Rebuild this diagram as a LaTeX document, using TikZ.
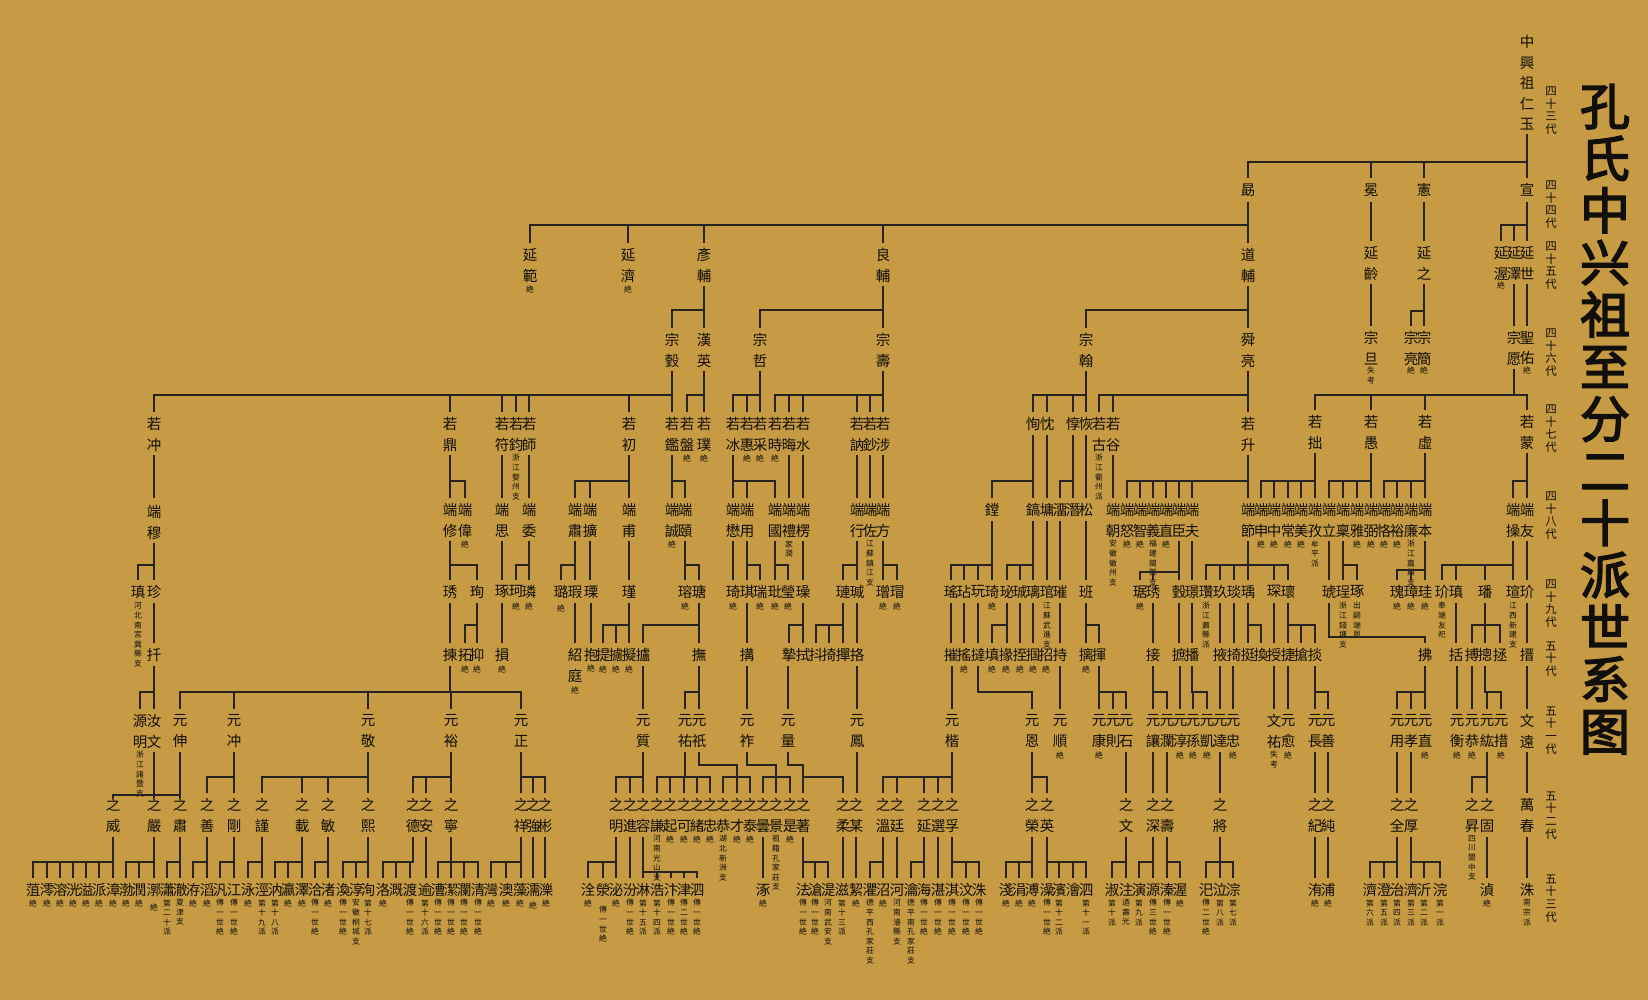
\documentclass[tikz,border=0pt]{standalone}
\usepackage{fontspec}
\newfontfamily\cjk{Noto Sans CJK SC}
\newfontfamily\cjkb{Noto Sans CJK SC}[FakeBold=3]
\definecolor{bgc}{RGB}{198,155,67}
\definecolor{lnc}{RGB}{40,35,30}
\definecolor{txc}{RGB}{18,14,10}
\newcommand\Nm[3]{\node[nm] (n#1-#2) at (#1,#2-6.7) {#3};}
\newcommand\Nt[3]{\node[nt] (t#1-#2) at (#1,#2-3.8) {#3};}
\newcommand\Vl[3]{\draw[ln] (#1,#2) -- (#1,#3);}
\newcommand\Br[5]{\foreach \cx in {#5}{\draw[ln] (#1,#2) |- (\cx,#3) -- (\cx,#4);}}
\begin{document}
\begin{tikzpicture}[x=1pt,y=-1pt,
 nm/.style={font=\cjk\fontsize{14.5}{20.5}\selectfont, inner sep=0pt, align=center, anchor=north, text=txc},
 nt/.style={font=\cjk\fontsize{7.8}{9.6}\selectfont, inner sep=0pt, align=center, anchor=north, text=txc},
 gl/.style={font=\cjk\fontsize{11.5}{12.7}\selectfont, inner sep=0pt, align=center, anchor=north, text=txc},
 ln/.style={draw=lnc, line width=1.35pt}]
\useasboundingbox (0,0) rectangle (1648,1000);
\fill[bgc] (0,0) rectangle (1648,1000);
% title
\node[font=\cjkb\fontsize{50}{52.1}\selectfont, inner sep=0pt, align=center, anchor=north, text=txc] (title) at (1605,84) {孔\\氏\\中\\兴\\祖\\至\\分\\二\\十\\派\\世\\系\\图};
% generation labels
\node[gl] (g43) at (1551,86.5) {四\\十\\三\\代};
\node[gl] (g44) at (1551,180.5) {四\\十\\四\\代};
\node[gl] (g45) at (1551,241.5) {四\\十\\五\\代};
\node[gl] (g46) at (1551,328.5) {四\\十\\六\\代};
\node[gl] (g47) at (1551,404.5) {四\\十\\七\\代};
\node[gl] (g48) at (1551,491.5) {四\\十\\八\\代};
\node[gl] (g49) at (1551,579.5) {四\\十\\九\\代};
\node[gl] (g50) at (1551,641.5) {五\\十\\代};
\node[gl] (g51) at (1551,706.5) {五\\十\\一\\代};
\node[gl] (g52) at (1551,791.5) {五\\十\\二\\代};
\node[gl] (g53) at (1551,874.5) {五\\十\\三\\代};
% ===== G43 / G44
\Nm{1527}{42}{中\\興\\祖\\仁\\玉}
\Br{1527}{134}{162}{178}{1248,1371,1424,1527}
\Nm{1248}{190}{勗}\Nm{1371}{190}{冕}\Nm{1424}{190}{憲}\Nm{1527}{190}{宣}
% ===== G45
\Br{1248}{202}{225}{243}{530,628,704,883,1248}
\Vl{1371}{202}{241}\Vl{1424}{202}{241}
\Br{1527}{202}{225}{241}{1501,1514,1527}
\Nm{530}{255}{延\\範}\Nt{530}{289}{絶}
\Nm{628}{255}{延\\濟}\Nt{628}{289}{絶}
\Nm{704}{255}{彥\\輔}\Nm{883}{255}{良\\輔}\Nm{1248}{255}{道\\輔}
\Nm{1371}{253}{延\\齡}\Nm{1424}{253}{延\\之}
\Nm{1501}{253}{延\\渥}\Nt{1501}{285}{絶}
\Nm{1514}{253}{延\\澤}\Nm{1527}{253}{延\\世}
% ===== G46
\Br{704}{286}{310}{328}{672,704}
\Br{883}{286}{310}{328}{760,883}
\Br{1248}{286}{310}{328}{1086,1248}
\Vl{1371}{284}{326}
\Br{1424}{284}{311}{326}{1411,1424}
\Vl{1514}{284}{326}\Vl{1527}{284}{326}
\Nm{672}{340}{宗\\瑴}\Nm{704}{340}{漢\\英}\Nm{760}{340}{宗\\哲}\Nm{883}{340}{宗\\壽}\Nm{1086}{340}{宗\\翰}\Nm{1248}{340}{舜\\亮}
\Nm{1371}{338}{宗\\旦}\Nt{1371}{371}{失\\考}
\Nm{1411}{338}{宗\\亮}\Nt{1411}{370}{絶}
\Nm{1424}{338}{宗\\簡}\Nt{1424}{370}{絶}
\Nm{1514}{338}{宗\\愿}
\Nm{1527}{338}{聖\\佑}\Nt{1527}{370}{絶}
% ===== G47
\Br{672}{371}{395}{412}{154,450,502,516,529,629,672}
\Br{704}{371}{395}{412}{687,704}
\Br{760}{371}{395}{412}{733,747,760}
\Br{883}{371}{395}{412}{775,789,803,857,870,883}
\Br{1086}{371}{395}{412}{1033,1047,1073,1086}
\Br{1248}{371}{395}{412}{1099,1113,1248}
\Br{1514}{369}{395}{410}{1315,1371,1425,1527}
\Nm{154}{424}{若\\冲}\Nm{450}{424}{若\\鼎}\Nm{502}{424}{若\\符}
\Nm{516}{424}{若\\鈞}\Nt{516}{458}{浙\\江\\婺\\州\\支}
\Nm{529}{424}{若\\師}\Nm{629}{424}{若\\初}\Nm{672}{424}{若\\鑑}
\Nm{687}{424}{若\\盤}\Nt{687}{458}{絶}\Nm{704}{424}{若\\璞}\Nt{704}{458}{絶}
\Nm{733}{424}{若\\冰}\Nm{747}{424}{若\\惠}\Nt{747}{458}{絶}\Nm{760}{424}{若\\采}\Nt{760}{458}{絶}
\Nm{775}{424}{若\\時}\Nt{775}{458}{絶}\Nm{789}{424}{若\\晦}\Nm{803}{424}{若\\水}
\Nm{857}{424}{若\\訥}\Nm{870}{424}{若\\鈔}\Nm{883}{424}{若\\涉}
\Nm{1033}{424}{恂}\Nm{1047}{424}{忱}\Nm{1073}{424}{惇}\Nm{1086}{424}{恢}
\Nm{1099}{424}{若\\古}\Nt{1099}{458}{浙\\江\\衢\\州\\派}
\Nm{1113}{424}{若\\谷}\Nm{1248}{424}{若\\升}
\Nm{1315}{422}{若\\拙}\Nm{1371}{422}{若\\愚}\Nm{1425}{422}{若\\虛}\Nm{1527}{422}{若\\蒙}
% ===== G48
\Vl{154}{455}{498}
\Br{450}{455}{481}{498}{450,465}
\Vl{502}{455}{498}\Vl{529}{455}{498}
\Br{629}{455}{481}{498}{575,590,629}
\Br{672}{455}{481}{498}{672,685}
\Br{733}{455}{481}{498}{733,747,775}
\Vl{789}{455}{498}\Vl{803}{455}{498}
\Vl{857}{455}{498}\Vl{870}{455}{498}\Vl{883}{455}{498}
\Br{1033}{435}{481}{498}{992,1033}
\Vl{1047}{435}{498}
\Br{1073}{435}{481}{498}{1060,1073}
\Vl{1086}{435}{498}
\Vl{1113}{455}{498}
\Br{1248}{455}{481}{498}{1127,1140,1153,1166,1179,1192,1248}
\Br{1315}{453}{481}{498}{1261,1274,1288,1301,1315}
\Br{1371}{453}{481}{498}{1329,1343,1357,1371}
\Br{1425}{453}{481}{498}{1384,1397,1411,1425}
\Br{1527}{453}{481}{498}{1513,1527}
\Nm{154}{512}{端\\穆}
\Nm{450}{510}{端\\修}\Nm{465}{510}{端\\偉}\Nt{465}{544}{絶}
\Nm{502}{510}{端\\思}\Nm{529}{510}{端\\委}
\Nm{575}{510}{端\\肅}\Nm{590}{510}{端\\擴}\Nm{629}{510}{端\\甫}
\Nm{672}{510}{端\\誠}\Nt{672}{544}{絶}\Nm{685}{510}{端\\頤}
\Nm{733}{510}{端\\懋}\Nm{747}{510}{端\\用}\Nm{775}{510}{端\\國}
\Nm{789}{510}{端\\禮}\Nt{789}{544}{家\\潤}\Nm{803}{510}{端\\楞}
\Nm{857}{510}{端\\行}\Nm{870}{510}{端\\佐}\Nt{870}{544}{江\\蘇\\鎮\\江\\支}\Nm{883}{510}{端\\方}
\Nm{992}{510}{鏜}\Nm{1033}{510}{鎬}\Nm{1047}{510}{墉}\Nm{1060}{510}{澑}\Nm{1073}{510}{潛}\Nm{1086}{510}{松}
\Nm{1113}{510}{端\\朝}\Nt{1113}{544}{安\\徽\\徽\\州\\支}
\Nm{1127}{510}{端\\怒}\Nt{1127}{544}{絶}\Nm{1140}{510}{端\\智}\Nt{1140}{544}{絶}
\Nm{1153}{510}{端\\義}\Nt{1153}{544}{福\\建\\閩\\縣\\支}
\Nm{1166}{510}{端\\直}\Nt{1166}{544}{絶}\Nm{1179}{510}{端\\臣}\Nm{1192}{510}{端\\夫}
\Nm{1248}{510}{端\\節}\Nm{1261}{510}{端\\申}\Nt{1261}{544}{絶}\Nm{1274}{510}{端\\中}\Nt{1274}{544}{絶}
\Nm{1288}{510}{端\\常}\Nt{1288}{544}{絶}\Nm{1301}{510}{端\\美}\Nt{1301}{544}{絶}
\Nm{1315}{510}{端\\孜}\Nt{1315}{544}{牟\\平\\派}
\Nm{1329}{510}{端\\立}\Nm{1343}{510}{端\\稟}\Nm{1357}{510}{端\\雅}\Nt{1357}{544}{絶}\Nm{1371}{510}{端\\弼}\Nt{1371}{544}{絶}
\Nm{1384}{510}{端\\恪}\Nt{1384}{544}{絶}\Nm{1397}{510}{端\\裕}\Nt{1397}{544}{絶}
\Nm{1411}{510}{端\\廉}\Nt{1411}{544}{浙\\江\\嘉\\興\\支}\Nm{1425}{510}{端\\本}
\Nm{1513}{510}{端\\操}\Nm{1527}{510}{端\\友}
% ===== G49
\Br{154}{543}{565}{580}{138,154}
\Br{450}{541}{565}{580}{450,477}
\Vl{502}{541}{580}
\Br{529}{541}{565}{580}{516,529}
\Br{575}{541}{565}{580}{561,575}
\Vl{590}{541}{580}\Vl{629}{541}{580}
\Br{685}{541}{565}{580}{685,699}
\Vl{733}{541}{580}
\Br{747}{541}{565}{580}{747,760}
\Br{775}{541}{565}{580}{775,788}
\Vl{803}{541}{580}
\Br{857}{541}{565}{580}{843,857}
\Br{883}{541}{565}{580}{883,897}
\Br{992}{521}{565}{580}{951,964,978,992}
\Br{1033}{521}{565}{580}{1007,1020,1033}
\Vl{1047}{521}{580}\Vl{1060}{521}{580}\Vl{1086}{521}{580}
\Br{1179}{541}{572}{580}{1140,1153,1179}
\Vl{1192}{541}{580}
\Br{1248}{541}{565}{580}{1206,1220,1234,1248,1274,1288}
\Vl{1329}{541}{580}
\Br{1343}{541}{565}{580}{1343,1357}
\Br{1425}{541}{570}{580}{1397,1411,1425}
\Br{1513}{541}{565}{580}{1442,1456,1485,1513}
\Vl{1527}{541}{580}
\Nm{138}{592}{瑱}\Nt{138}{606}{河\\北\\南\\宮\\冀\\縣\\支}
\Nm{154}{592}{珍}\Nm{450}{592}{琇}\Nm{477}{592}{珣}\Nm{502}{592}{琢}
\Nm{516}{592}{珂}\Nt{516}{606}{絶}\Nm{529}{592}{璘}\Nt{529}{606}{絶}
\Nm{561}{592}{璐}\Nt{561}{608}{絶}\Nm{575}{592}{瑕}\Nm{591}{592}{瑮}\Nm{629}{592}{瑾}
\Nm{685}{592}{瑢}\Nt{685}{606}{絶}\Nm{699}{592}{瑭}
\Nm{733}{592}{琦}\Nt{733}{606}{絶}\Nm{747}{592}{琪}\Nm{760}{592}{瑞}\Nt{760}{606}{絶}
\Nm{775}{592}{玭}\Nt{775}{606}{絶}\Nm{788}{592}{瑩}\Nt{788}{606}{絶}\Nm{803}{592}{璪}
\Nm{843}{592}{璉}\Nm{857}{592}{瑊}\Nm{883}{592}{璔}\Nt{883}{606}{絶}\Nm{897}{592}{瑁}\Nt{897}{606}{絶}
\Nm{951}{592}{瑤}\Nm{964}{592}{玷}\Nm{978}{592}{玩}\Nm{992}{592}{琦}\Nt{992}{606}{絶}
\Nm{1007}{592}{珌}\Nm{1020}{592}{珹}\Nm{1033}{592}{璃}
\Nm{1047}{592}{琯}\Nt{1047}{606}{江\\蘇\\武\\進\\支}\Nm{1060}{592}{璀}\Nm{1086}{592}{班}
\Nm{1140}{592}{琚}\Nt{1140}{606}{絶}\Nm{1153}{592}{琇}\Nm{1179}{592}{瑴}\Nm{1192}{592}{璟}
\Nm{1206}{592}{瓚}\Nt{1206}{606}{浙\\江\\蕭\\縣\\派}
\Nm{1220}{592}{玖}\Nm{1234}{592}{琰}\Nm{1248}{592}{瑀}\Nm{1274}{592}{琛}\Nm{1288}{592}{瓌}
\Nm{1329}{592}{琥}\Nm{1343}{592}{珵}\Nt{1343}{606}{浙\\江\\錢\\塘\\支}
\Nm{1357}{592}{琢}\Nt{1357}{606}{出\\嗣\\端\\恩}
\Nm{1397}{592}{瑰}\Nt{1397}{606}{絶}\Nm{1411}{592}{璋}\Nt{1411}{606}{絶}\Nm{1425}{592}{珪}\Nt{1425}{606}{絶}
\Nm{1442}{592}{玠}\Nt{1442}{606}{奉\\端\\友\\祀}
\Nm{1456}{592}{瑱}\Nm{1485}{592}{璠}\Nm{1513}{592}{瑄}\Nt{1513}{606}{江\\西\\新\\建\\支}\Nm{1527}{592}{玠}
% ===== G50
\Vl{154}{603}{643}\Vl{450}{603}{643}
\Br{477}{603}{625}{643}{465,477}
\Vl{502}{603}{643}
\Vl{575}{603}{643}\Vl{591}{603}{643}
\Br{629}{603}{625}{643}{603,616,629}
\Br{699}{603}{625}{643}{643,699}
\Vl{747}{603}{643}
\Br{803}{603}{625}{643}{789,803}
\Br{843}{603}{625}{643}{816,829,843}
\Vl{857}{603}{643}
\Vl{951}{603}{643}\Vl{964}{603}{643}\Vl{978}{603}{643}
\Br{1007}{603}{625}{643}{992,1007}
\Vl{1020}{603}{643}\Vl{1033}{603}{643}\Vl{1060}{603}{643}
\Br{1086}{603}{625}{643}{1086,1099}
\Vl{1153}{603}{643}\Vl{1179}{603}{643}\Vl{1192}{603}{643}
\Vl{1220}{603}{643}\Vl{1234}{603}{643}
\Br{1248}{603}{625}{643}{1248,1261}
\Vl{1274}{603}{643}
\Br{1288}{603}{625}{643}{1288,1301,1315}
\draw[ln] (1329,603) |- (1425,637) -- (1425,643);
\Vl{1456}{603}{643}
\Br{1485}{603}{625}{643}{1472,1485,1500}
\Vl{1527}{603}{643}
\Nm{154}{655}{扦}\Nm{450}{655}{揀}\Nm{465}{655}{拓}\Nt{465}{669}{絶}\Nm{477}{655}{抑}\Nt{477}{669}{絶}
\Nm{502}{655}{損}\Nt{502}{669}{絶}
\Nm{575}{655}{紹\\庭}\Nt{575}{690}{絶}\Nm{591}{655}{抱}\Nt{591}{668}{絶}
\Nm{603}{655}{提}\Nt{603}{669}{絶}\Nm{616}{655}{攄}\Nt{616}{669}{絶}\Nm{629}{655}{擬}\Nt{629}{669}{絶}
\Nm{643}{655}{攎}\Nm{699}{655}{撫}
\Nm{747}{655}{搆}\Nm{789}{655}{摯}\Nm{803}{655}{拭}\Nm{816}{655}{抖}\Nm{829}{655}{掎}\Nm{843}{655}{撣}\Nm{857}{655}{挌}
\Nm{951}{655}{摧}\Nm{964}{655}{搖}\Nt{964}{669}{絶}\Nm{978}{655}{撻}
\Nm{992}{655}{填}\Nt{992}{669}{絶}\Nm{1006}{655}{掾}\Nt{1006}{669}{絶}\Nm{1020}{655}{挃}\Nt{1020}{669}{絶}
\Nm{1033}{655}{掴}\Nt{1033}{669}{絶}\Nm{1046}{655}{招}\Nt{1046}{669}{絶}\Nm{1060}{655}{持}
\Nm{1086}{655}{摛}\Nt{1086}{669}{絶}\Nm{1099}{655}{揮}
\Nm{1153}{655}{接}\Nm{1179}{655}{摭}\Nm{1192}{655}{播}\Nm{1220}{655}{掖}\Nm{1234}{655}{掎}
\Nm{1248}{655}{挺}\Nm{1261}{655}{換}\Nm{1274}{655}{授}\Nm{1288}{655}{捷}\Nm{1301}{655}{搶}\Nm{1315}{655}{掞}
\Nm{1425}{655}{拂}\Nm{1456}{655}{括}\Nm{1472}{655}{搏}\Nm{1485}{655}{摠}\Nm{1500}{655}{拯}\Nm{1527}{655}{搢}
% ===== G51
\Br{154}{666}{692}{709}{140,154}
\Br{450}{666}{692}{709}{180,234,368,451,521}
\Vl{643}{666}{709}
\Br{699}{666}{692}{709}{685,699}
\Vl{747}{666}{709}\Vl{788}{666}{709}\Vl{857}{666}{709}\Vl{952}{666}{709}
\draw[ln] (978,666) |- (1032,692) -- (1032,709);
\Vl{1060}{666}{709}
\Br{1099}{666}{692}{709}{1099,1113,1126}
\Br{1153}{666}{692}{709}{1153,1167}
\Vl{1180}{666}{709}
\Br{1192}{666}{692}{709}{1193,1207}
\Vl{1220}{666}{709}\Vl{1233}{666}{709}
\Vl{1274}{666}{709}\Vl{1288}{666}{709}
\Br{1315}{666}{692}{709}{1315,1328}
\Br{1425}{666}{692}{709}{1397,1411,1425}
\Vl{1457}{666}{709}\Vl{1472}{666}{709}
\Br{1485}{666}{692}{709}{1487,1501}
\Vl{1527}{666}{709}
\Nm{140}{721}{源\\明}\Nt{140}{755}{浙\\江\\諸\\暨\\支}
\Nm{154}{721}{汝\\文}\Nm{180}{721}{元\\伸}\Nm{234}{721}{元\\冲}\Nm{368}{721}{元\\敬}\Nm{451}{721}{元\\裕}\Nm{521}{721}{元\\正}
\Nm{643}{721}{元\\質}\Nm{685}{721}{元\\祐}\Nm{699}{721}{元\\祇}\Nm{747}{721}{元\\祚}\Nm{788}{721}{元\\量}\Nm{857}{721}{元\\鳳}
\Nm{952}{721}{元\\楷}\Nm{1032}{721}{元\\恩}\Nm{1060}{721}{元\\順}\Nt{1060}{755}{絶}
\Nm{1099}{721}{元\\康}\Nt{1099}{755}{絶}\Nm{1113}{721}{元\\則}\Nm{1126}{721}{元\\石}
\Nm{1153}{721}{元\\讓}\Nm{1167}{721}{元\\瀾}\Nm{1180}{721}{元\\淳}\Nt{1180}{755}{絶}
\Nm{1193}{721}{元\\孫}\Nt{1193}{755}{絶}\Nm{1207}{721}{元\\凱}\Nt{1207}{755}{絶}
\Nm{1220}{721}{元\\達}\Nm{1233}{721}{元\\忠}\Nt{1233}{755}{絶}
\Nm{1274}{721}{文\\祐}\Nt{1274}{755}{失\\考}\Nm{1288}{721}{元\\愈}\Nt{1288}{755}{絶}
\Nm{1315}{721}{元\\長}\Nm{1328}{721}{元\\善}
\Nm{1397}{721}{元\\用}\Nm{1411}{721}{元\\孝}\Nm{1425}{721}{元\\直}\Nt{1425}{755}{絶}
\Nm{1457}{721}{元\\衡}\Nt{1457}{755}{絶}\Nm{1472}{721}{元\\恭}\Nt{1472}{755}{絶}
\Nm{1487}{721}{元\\紘}\Nm{1501}{721}{元\\措}\Nt{1501}{755}{絶}
\Nm{1527}{721}{文\\遠}
% ===== G52
\Br{154}{752}{795}{798}{113,154}
\Br{180}{752}{795}{798}{154,180}
\Br{234}{752}{777}{793}{207,234}
\Br{368}{752}{777}{793}{262,302,328,368}
\Br{451}{752}{777}{793}{413,426,451}
\Br{521}{752}{777}{793}{521,533,545}
\Br{643}{752}{777}{793}{616,630,643}
\Br{685}{752}{777}{793}{657,670,684,697,710}
\draw[ln] (699,752) |- (737,765) -- (737,777);
\Br{737}{777}{777}{793}{723,737,750}
\draw[ln] (747,752) |- (776,765) -- (776,777);
\Br{776}{777}{777}{793}{763,776,790}
\draw[ln] (788,752) |- (803,765) -- (803,777);
\Br{803}{777}{777}{793}{803,843}
\Vl{857}{752}{793}
\Br{952}{752}{777}{793}{883,897,924,938,952}
\Br{1032}{752}{777}{793}{1032,1047}
\Vl{1126}{752}{793}\Vl{1153}{752}{793}\Vl{1167}{752}{793}\Vl{1220}{752}{793}
\Vl{1315}{752}{793}\Vl{1328}{752}{793}\Vl{1397}{752}{793}\Vl{1411}{752}{793}
\Br{1487}{752}{777}{793}{1472,1487}
\Vl{1527}{752}{793}
\Nm{113}{805}{之\\威}\Nm{154}{805}{之\\嚴}\Nm{180}{805}{之\\肅}\Nm{207}{805}{之\\善}\Nm{234}{805}{之\\剛}
\Nm{262}{805}{之\\謹}\Nm{302}{805}{之\\載}\Nm{328}{805}{之\\敏}\Nm{368}{805}{之\\熙}
\Nm{413}{805}{之\\德}\Nm{426}{805}{之\\安}\Nm{451}{805}{之\\寧}
\Nm{521}{805}{之\\祥}\Nm{533}{805}{之\\強}\Nm{545}{805}{之\\彬}
\Nm{616}{805}{之\\明}\Nm{630}{805}{之\\進}\Nm{643}{805}{之\\容}
\Nm{657}{805}{之\\謙}\Nt{657}{839}{河\\南\\光\\山\\支}
\Nm{670}{805}{之\\起}\Nt{670}{839}{絶}\Nm{684}{805}{之\\可}\Nt{684}{839}{絶}\Nm{697}{805}{之\\緒}\Nt{697}{839}{絶}\Nm{710}{805}{之\\忠}\Nt{710}{839}{絶}
\Nm{723}{805}{之\\恭}\Nt{723}{839}{湖\\北\\新\\洲\\支}
\Nm{737}{805}{之\\才}\Nt{737}{839}{絶}\Nm{750}{805}{之\\泰}\Nt{750}{839}{絶}
\Nm{763}{805}{之\\曇}\Nm{776}{805}{之\\景}\Nt{776}{839}{祖\\籍\\孔\\家\\莊\\支}
\Nm{790}{805}{之\\是}\Nt{790}{839}{絶}\Nm{803}{805}{之\\著}
\Nm{843}{805}{之\\柔}\Nm{856}{805}{之\\某}
\Nm{883}{805}{之\\溫}\Nm{897}{805}{之\\廷}\Nm{924}{805}{之\\延}\Nm{938}{805}{之\\選}\Nm{952}{805}{之\\孚}
\Nm{1032}{805}{之\\榮}\Nm{1047}{805}{之\\英}
\Nm{1126}{805}{之\\文}\Nm{1153}{805}{之\\深}\Nm{1167}{805}{之\\壽}\Nm{1220}{805}{之\\將}
\Nm{1315}{805}{之\\紀}\Nm{1328}{805}{之\\純}\Nm{1397}{805}{之\\全}\Nm{1411}{805}{之\\厚}
\Nm{1472}{805}{之\\昇}\Nt{1472}{839}{四\\川\\閬\\中\\支}\Nm{1487}{805}{之\\固}
\Nm{1527}{805}{萬\\春}
% ===== G53
\Br{113}{837}{862}{878}{33,47,60,73,86,99,113}
\Br{154}{837}{862}{878}{126,139,154}
\Br{180}{837}{862}{878}{167,180}
\Br{207}{837}{862}{878}{193,207}
\Br{234}{837}{862}{878}{220,234}
\Br{262}{837}{862}{878}{248,262}
\Br{302}{837}{862}{878}{275,288,302}
\Br{328}{837}{862}{878}{315,328}
\Br{368}{837}{862}{878}{343,356,368}
\Br{413}{837}{862}{878}{383,396,410}
\Vl{426}{837}{878}
\Br{451}{837}{862}{878}{438,451,464,478}
\Br{521}{837}{862}{878}{491,506,521}
\Vl{533}{837}{878}\Vl{545}{837}{878}
\Br{616}{837}{862}{878}{588,603,616}
\Vl{630}{837}{878}
\Br{643}{837}{872}{878}{643,657,671,684,697}
\Vl{763}{837}{878}
\Br{803}{837}{862}{878}{803,815,828}
\Vl{843}{837}{878}\Vl{856}{837}{878}
\Br{883}{837}{862}{878}{870,883}
\Vl{897}{837}{878}
\Br{924}{837}{862}{878}{911,924}
\Vl{938}{837}{878}
\Br{952}{837}{862}{878}{952,966,979}
\Br{1032}{837}{862}{878}{1006,1019,1032}
\Br{1047}{837}{862}{878}{1047,1059,1073,1086}
\Br{1126}{837}{862}{878}{1112,1126}
\Br{1153}{837}{862}{878}{1139,1153}
\Br{1167}{837}{862}{878}{1167,1180}
\Br{1220}{837}{862}{878}{1206,1220,1233}
\Vl{1315}{837}{878}\Vl{1328}{837}{878}
\Br{1397}{837}{862}{878}{1370,1384,1397}
\Br{1411}{837}{862}{878}{1411,1424,1440}
\Vl{1487}{837}{878}\Vl{1527}{837}{878}
\Nm{33}{890}{菹}\Nt{33}{903}{絶}\Nm{47}{890}{澪}\Nt{47}{903}{絶}\Nm{60}{890}{溶}\Nt{60}{903}{絶}
\Nm{73}{890}{洸}\Nt{73}{903}{絶}\Nm{86}{890}{溢}\Nt{86}{903}{絶}\Nm{99}{890}{派}\Nt{99}{903}{絶}
\Nm{113}{890}{漳}\Nt{113}{903}{絶}\Nm{126}{890}{渤}\Nt{126}{903}{絶}\Nm{139}{890}{潤}\Nt{139}{903}{絶}
\Nm{154}{890}{漷}\Nt{154}{907}{絶}
\Nm{167}{890}{瀟}\Nt{167}{903}{第\\二\\十\\派}\Nm{180}{890}{澈}\Nt{180}{903}{夏\\津\\支}
\Nm{193}{890}{洊}\Nt{193}{903}{絶}\Nm{207}{890}{滔}\Nt{207}{903}{絶}
\Nm{220}{890}{汎}\Nt{220}{903}{傳\\一\\世\\絶}\Nm{234}{890}{江}\Nt{234}{903}{傳\\一\\世\\絶}
\Nm{248}{890}{泳}\Nt{248}{903}{絶}\Nm{262}{890}{涇}\Nt{262}{903}{第\\十\\九\\派}
\Nm{275}{890}{汭}\Nt{275}{903}{第\\十\\八\\派}\Nm{288}{890}{瀛}\Nt{288}{903}{絶}\Nm{302}{890}{澤}\Nt{302}{903}{絶}
\Nm{315}{890}{洽}\Nt{315}{903}{傳\\一\\世\\絶}\Nm{328}{890}{渚}\Nt{328}{903}{絶}
\Nm{343}{890}{渙}\Nt{343}{903}{傳\\一\\世\\絶}\Nm{356}{890}{淳}\Nt{356}{903}{安\\徽\\桐\\城\\支}\Nm{368}{890}{洵}\Nt{368}{903}{第\\十\\七\\派}
\Nm{383}{890}{洛}\Nt{383}{903}{絶}\Nm{396}{890}{溉}\Nm{410}{890}{渡}\Nt{410}{903}{傳\\一\\世\\絶}
\Nm{425}{890}{逾}\Nt{425}{903}{第\\十\\六\\派}
\Nm{438}{890}{漕}\Nt{438}{903}{傳\\一\\世\\絶}\Nm{451}{890}{潔}\Nt{451}{903}{傳\\一\\世\\絶}
\Nm{464}{890}{瀾}\Nt{464}{903}{傳\\一\\世\\絶}\Nm{478}{890}{清}\Nt{478}{903}{傳\\一\\世\\絶}
\Nm{491}{890}{灣}\Nt{491}{903}{絶}\Nm{506}{890}{澳}\Nt{506}{903}{絶}\Nm{520}{890}{藻}\Nt{520}{903}{絶}
\Nm{533}{890}{濡}\Nt{533}{905}{絶}\Nm{546}{890}{濼}\Nt{546}{903}{絶}
\Nm{588}{890}{洤}\Nt{588}{903}{絶}\Nm{603}{890}{滎}\Nt{603}{910}{傳\\一\\世\\絶}\Nm{616}{890}{泌}\Nt{616}{903}{絶}
\Nm{630}{890}{汾}\Nt{630}{903}{傳\\一\\世\\絶}\Nm{643}{890}{淋}\Nt{643}{903}{第\\十\\五\\派}
\Nm{657}{890}{浩}\Nt{657}{903}{第\\十\\四\\派}\Nm{671}{890}{汴}\Nt{671}{903}{傳\\一\\世\\絶}
\Nm{684}{890}{津}\Nt{684}{903}{傳\\二\\世\\絶}\Nm{697}{890}{泗}\Nt{697}{903}{傳\\一\\世\\絶}
\Nm{763}{890}{涿}\Nt{763}{903}{絶}
\Nm{803}{890}{法}\Nt{803}{903}{傳\\一\\世\\絶}\Nm{815}{890}{滄}\Nt{815}{903}{傳\\一\\世\\絶}
\Nm{828}{890}{湜}\Nt{828}{903}{河\\南\\武\\安\\支}\Nm{842}{890}{滋}\Nt{842}{903}{第\\十\\三\\派}
\Nm{856}{890}{絜}\Nt{856}{903}{絶}
\Nm{870}{890}{灈}\Nt{870}{903}{德\\平\\西\\孔\\家\\莊\\支}\Nm{883}{890}{沼}\Nt{883}{903}{絶}
\Nm{897}{890}{河}\Nt{897}{903}{河\\南\\濬\\縣\\支}\Nm{911}{890}{瀹}\Nt{911}{903}{德\\平\\南\\孔\\家\\莊\\支}
\Nm{924}{890}{海}\Nt{924}{903}{傳\\一\\世\\絶}\Nm{938}{890}{湛}\Nt{938}{903}{傳\\一\\世\\絶}
\Nm{952}{890}{淇}\Nt{952}{903}{傳\\一\\世\\絶}\Nm{966}{890}{汶}\Nt{966}{903}{傳\\一\\世\\絶}\Nm{979}{890}{洙}\Nt{979}{903}{傳\\一\\世\\絶}
\Nm{1006}{890}{淺}\Nt{1006}{903}{絶}\Nm{1019}{890}{涓}\Nt{1019}{903}{絶}\Nm{1032}{890}{溥}\Nt{1032}{903}{絶}
\Nm{1047}{890}{澡}\Nt{1047}{903}{傳\\一\\世\\絶}\Nm{1059}{890}{濱}\Nt{1059}{903}{第\\十\\二\\派}
\Nm{1073}{890}{澮}\Nm{1086}{890}{泗}\Nt{1086}{903}{第\\十\\一\\派}
\Nm{1112}{890}{淑}\Nt{1112}{903}{第\\十\\派}\Nm{1126}{890}{注}\Nt{1126}{903}{迺\\壽\\光}
\Nm{1139}{890}{演}\Nt{1139}{903}{第\\九\\派}\Nm{1153}{890}{源}\Nt{1153}{903}{傳\\三\\世\\絶}
\Nm{1167}{890}{溱}\Nt{1167}{903}{傳\\一\\世\\絶}\Nm{1180}{890}{渥}\Nt{1180}{903}{絶}
\Nm{1206}{890}{汜}\Nt{1206}{903}{傳\\二\\世\\絶}\Nm{1220}{890}{泣}\Nt{1220}{903}{第\\八\\派}\Nm{1233}{890}{淙}\Nt{1233}{903}{第\\七\\派}
\Nm{1315}{890}{洧}\Nt{1315}{903}{絶}\Nm{1328}{890}{浦}\Nt{1328}{903}{絶}
\Nm{1370}{890}{濟}\Nt{1370}{903}{第\\六\\派}\Nm{1384}{890}{澄}\Nt{1384}{903}{第\\五\\派}\Nm{1397}{890}{治}\Nt{1397}{903}{第\\四\\派}
\Nm{1411}{890}{濟}\Nt{1411}{903}{第\\三\\派}\Nm{1424}{890}{沂}\Nt{1424}{903}{第\\二\\派}\Nm{1440}{890}{浣}\Nt{1440}{903}{第\\一\\派}
\Nm{1487}{890}{湞}\Nt{1487}{903}{絶}\Nm{1527}{890}{洙}\Nt{1527}{903}{南\\宗\\派}
\end{tikzpicture}
\end{document}
